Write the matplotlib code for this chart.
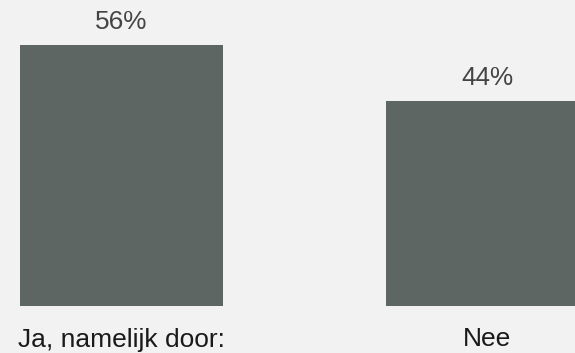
import matplotlib.pyplot as plt
import matplotlib.transforms as mtransforms

categories = ["Ja, namelijk door:", "Nee"]
values = [56, 44]
value_labels = ["56%", "44%"]

BG = "#f2f2f2"
BAR = "#5e6664"

plt.rcParams['font.family'] = ['Liberation Sans', 'DejaVu Sans']

fig = plt.figure(figsize=(5.75, 3.53), dpi=100, facecolor=BG)
# axes bottom sits at the bar baseline (~306 px from top)
ax = fig.add_axes([0, 1 - 306 / 353, 1, 306 / 353])
ax.set_facecolor(BG)

x = list(range(len(categories)))
ax.bar(x, values, width=0.555, color=BAR)

ax.set_xlim(-0.3324, 1.2408)
ax.set_ylim(0, 65.7)
ax.axis("off")

for xi, v, lab in zip(x, values, value_labels):
    ax.annotate(lab, (xi, v), xytext=(0, 11.6), textcoords="offset points",
                ha="center", va="baseline", fontsize=18.8, color="#444444")

trans = mtransforms.blended_transform_factory(ax.transData, fig.transFigure)
for xi, cat in zip(x, categories):
    ax.text(xi, 1 - 346.5 / 353, cat, transform=trans, ha="center", va="baseline",
            fontsize=19, color="#1a1a1a", clip_on=False)

fig.savefig("out.png", dpi=100, facecolor=BG)
